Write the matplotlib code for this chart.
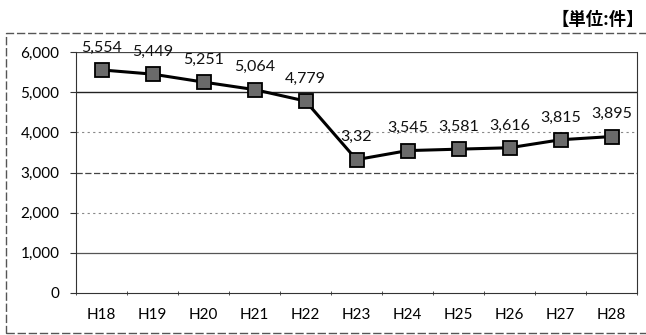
import matplotlib
matplotlib.use("Agg")
import matplotlib.pyplot as plt
import matplotlib.ticker as mtick
from matplotlib.patches import Rectangle

plt.rcParams['font.family'] = ['Lato', 'DejaVu Sans']

# data
years = ['H18', 'H19', 'H20', 'H21', 'H22', 'H23', 'H24', 'H25', 'H26', 'H27', 'H28']
counts = [5554, 5449, 5251, 5064, 4779, 3320, 3545, 3581, 3616, 3815, 3895]
point_labels = ['5,554', '5,449', '5,251', '5,064', '4,779', '3,32',
                '3,545', '3,581', '3,616', '3,815', '3,895']
y_ticks = [0, 1000, 2000, 3000, 4000, 5000, 6000]
unit_text = '【単位:件】'

fig_w, fig_h = 646, 335
fig = plt.figure(figsize=(fig_w / 100, fig_h / 100), dpi=100)
fig.patch.set_facecolor('white')

ax = fig.add_axes([76 / fig_w, 1 - 293 / fig_h, (637 - 76) / fig_w, (293 - 52) / fig_h])
x = list(range(len(years)))

# gridlines (scanned look: mixed styles)
grid_styles = {1000: ('#555555', '-', 0.9), 2000: ('#888888', (0, (2, 3)), 0.8),
               3000: ('#444444', (0, (5, 2)), 0.9), 4000: ('#888888', (0, (2, 3)), 0.8),
               5000: ('#222222', '-', 1.0), 6000: ('#444444', '-', 0.9)}
for v, (c, ls, lw) in grid_styles.items():
    ax.axhline(v, color=c, linestyle=ls, lw=lw, zorder=1)

ax.plot(x, counts, color='black', lw=2.2, marker='s', markersize=10,
        markerfacecolor='#6a6a6a', markeredgecolor='black', markeredgewidth=1.3, zorder=3)

for xi, v, lab in zip(x, counts, point_labels):
    ax.annotate(lab, (xi, v), xytext=(0, 11), textcoords='offset points',
                ha='center', va='bottom', fontsize=11.5, color='#111111')

ax.set_xlim(-0.5, len(years) - 0.5)
ax.set_ylim(0, 6000)
ax.set_yticks(y_ticks)
ax.yaxis.set_major_formatter(mtick.StrMethodFormatter('{x:,.0f}'))
ax.set_xticks(x)
ax.set_xticklabels(years)
ax.set_xticks([i - 0.5 for i in range(len(years) + 1)], minor=True)
ax.tick_params(axis='x', which='major', length=0, pad=11, labelsize=11)
ax.tick_params(axis='x', which='minor', length=3, direction='inout', color='#333333')
ax.tick_params(axis='y', which='major', length=4, direction='out', pad=8, labelsize=11,
               color='#333333')

ax.spines['top'].set_visible(False)
ax.spines['left'].set_color('#333333')
ax.spines['bottom'].set_color('#333333')
ax.spines['right'].set_color('#333333')

# outer chart border
fig.patches.append(Rectangle((6 / fig_w, 1 - 333 / fig_h), (660 - 6) / fig_w, (333 - 33) / fig_h,
                             transform=fig.transFigure, fill=False, ec='#555555',
                             lw=1.0, ls=(0, (6, 2))))

fig.text(644 / fig_w, 1 - 20 / fig_h, unit_text, ha='right', va='center', fontsize=12.5,
         fontweight='bold', family=['Noto Sans CJK JP', 'DejaVu Sans'])

plt.savefig('out.png', dpi=100)
